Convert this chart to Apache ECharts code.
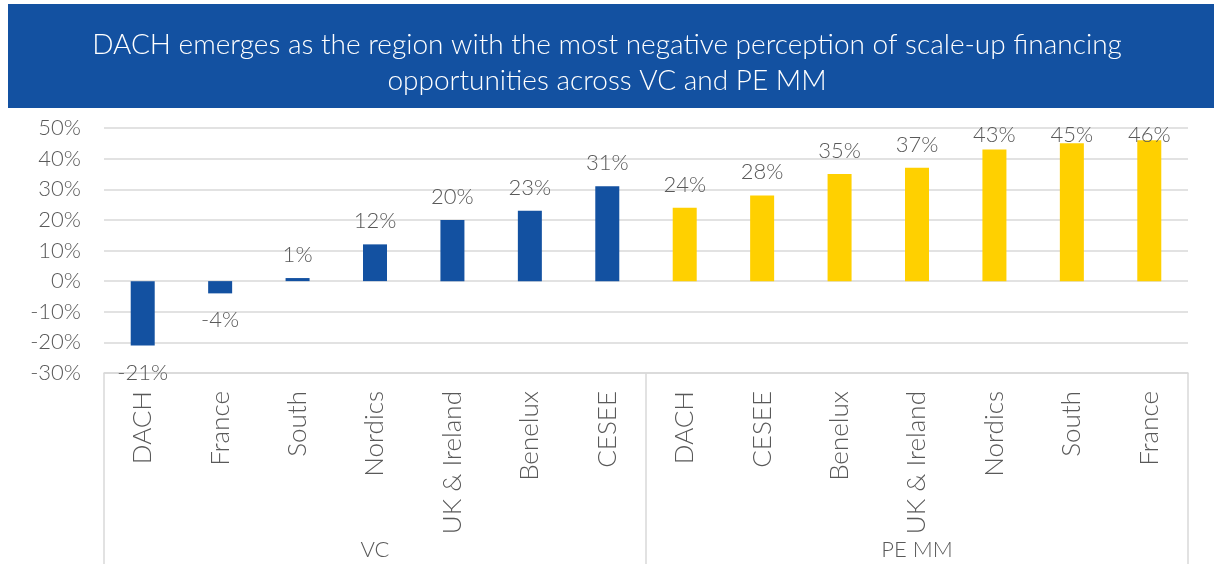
<!DOCTYPE html>
<html>
<head>
<meta charset="utf-8">
<script src="https://cdn.jsdelivr.net/npm/echarts@6/dist/echarts.min.js"></script>
<style>
  html, body { margin: 0; padding: 0; background: #fff; }
  #main { width: 1214px; height: 564px; }
</style>
</head>
<body>
<div id="main"></div>
<script>
// chart data
var regions = ['DACH', 'France', 'South', 'Nordics', 'UK & Ireland', 'Benelux', 'CESEE',
               'DACH', 'CESEE', 'Benelux', 'UK & Ireland', 'Nordics', 'South', 'France'];
var groups = ['VC', 'PE MM'];
var vcValues = [-21, -4, 1, 12, 20, 23, 31];
var peValues = [24, 28, 35, 37, 43, 45, 46];
var yTicks = { min: -30, max: 50, step: 10 };

var titleText = 'DACH emerges as the region with the most negative perception of scale-up financing\nopportunities across VC and PE MM';

var fontFam = 'Lato, "Open Sans", sans-serif';
var grey = '#595959';

// plot box
var gridTop = 128, gridBottom = 191, chartH = 564;
var plotH = chartH - gridTop - gridBottom;

function pad(arr, before, after) {
    var out = [];
    for (var i = 0; i < before; i++) out.push(null);
    arr.forEach(function (v) { out.push(v); });
    for (var j = 0; j < after; j++) out.push(null);
    return out;
}

// labels sit ~12px off the bar, but are kept inside the plot at the top (like excel does)
function withLabels(arr) {
    return arr.map(function (v) {
        if (v === null) return null;
        if (v < 0) {
            return { value: v, label: { position: 'bottom', distance: 16 } };
        }
        var yPx = gridTop + (yTicks.max - v) / (yTicks.max - yTicks.min) * plotH;
        var dist = Math.min(12, yPx - 142 - 4);
        return { value: v, label: { position: 'top', distance: dist } };
    });
}

var myChart = echarts.init(document.getElementById('main'));

var labelStyle = {
    show: true,
    color: grey,
    fontSize: 22,
    fontFamily: fontFam,
    fontWeight: 300,
    formatter: function (p) { return p.value + '%'; }
};

var option = {
    animation: false,
    title: {
        text: titleText,
        left: 'center',
        top: 22,
        textStyle: {
            color: '#fff',
            fontSize: 28,
            fontWeight: 300,
            fontFamily: fontFam,
            lineHeight: 36
        }
    },
    graphic: [{
        type: 'rect',
        z: -1,
        shape: { x: 8, y: 4, width: 1206, height: 104 },
        style: { fill: '#1351A1' }
    }],
    grid: { left: 104, right: 26, top: gridTop, bottom: gridBottom },
    xAxis: [{
        type: 'category',
        data: regions,
        position: 'bottom',
        axisLine: { show: true, onZero: false, lineStyle: { color: '#d9d9d9', width: 1.5 } },
        axisTick: { show: false },
        axisLabel: {
            interval: 0,
            rotate: 90,
            margin: 18,
            color: grey,
            fontSize: 26,
            fontFamily: fontFam,
            fontWeight: 300
        }
    }, {
        type: 'category',
        data: groups,
        position: 'bottom',
        axisLine: { show: false, onZero: false },
        axisTick: { show: true, length: 191, interval: 0, lineStyle: { color: '#d9d9d9', width: 1.5 } },
        axisLabel: {
            margin: 166,
            color: grey,
            fontSize: 22,
            fontFamily: fontFam,
            fontWeight: 300
        }
    }],
    yAxis: {
        type: 'value',
        min: yTicks.min,
        max: yTicks.max,
        interval: yTicks.step,
        axisLine: { show: false },
        axisTick: { show: false },
        splitLine: { lineStyle: { color: '#d9d9d9', width: 1.5 } },
        axisLabel: {
            formatter: '{value}%',
            margin: 23,
            color: grey,
            fontSize: 22,
            fontFamily: fontFam,
            fontWeight: 300
        }
    },
    series: [{
        name: 'VC',
        type: 'bar',
        barWidth: 24,
        barGap: '-100%',
        data: withLabels(pad(vcValues, 0, peValues.length)),
        itemStyle: { color: '#1351A1' },
        label: labelStyle
    }, {
        name: 'PE MM',
        type: 'bar',
        barWidth: 24,
        barGap: '-100%',
        data: withLabels(pad(peValues, vcValues.length, 0)),
        itemStyle: { color: '#FFD000' },
        label: labelStyle
    }]
};

myChart.setOption(option);
</script>
</body>
</html>
